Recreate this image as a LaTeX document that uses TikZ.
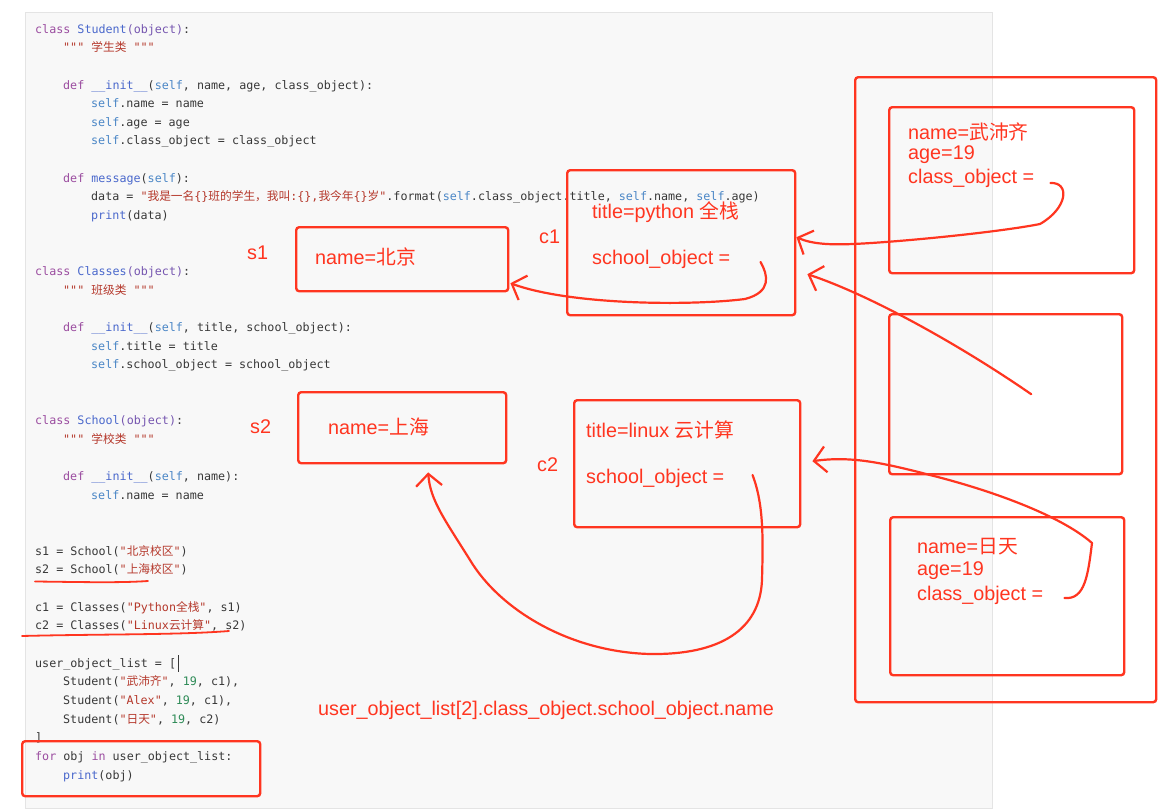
\documentclass[tikz,border=0pt]{standalone}
\usepackage{fontspec}
\setmainfont{Liberation Sans}
\setmonofont{DejaVu Sans Mono}
\newfontfamily\cjk{Noto Sans CJK SC}
\usepackage{xcolor}
\usetikzlibrary{arrows.meta,calc}
\definecolor{markred}{HTML}{FF3520}
\definecolor{codetext}{HTML}{383838}
\definecolor{codekw}{HTML}{9B4DA0}
\definecolor{codename}{HTML}{4A68CC}
\definecolor{codeobj}{HTML}{7656B0}
\definecolor{codeself}{HTML}{4A86C6}
\definecolor{codestr}{HTML}{B5392C}
\definecolor{codenum}{HTML}{2E8B57}
\definecolor{panelgray}{HTML}{F8F8F8}
\definecolor{panelline}{HTML}{E4E4E4}
\newcommand\zh[1]{{\cjk #1}}
\newcommand\kwd[1]{\textcolor{codekw}{#1}}
\newcommand\clsname[1]{\textcolor{codename}{#1}}
\newcommand\objw{\textcolor{codeobj}{(object)}}
\newcommand\selfw{\textcolor{codeself}{self}}
\newcommand\strg[1]{\textcolor{codestr}{#1}}
\newcommand\numb[1]{\textcolor{codenum}{#1}}
\tikzset{
  codeline/.style={text=codetext,font=\ttfamily\fontsize{11.7}{14}\selectfont,
    inner sep=0pt,anchor=base west},
  redtext/.style={text=markred,font=\fontsize{19.8}{24}\selectfont,
    inner sep=0pt,anchor=west},
  objbox/.style={draw=markred,line width=2.4pt,rounded corners=3pt,
    inner sep=0pt,anchor=north west},
  handarrow/.style={draw=markred,line width=2.2pt,line cap=round,line join=round,
    -{Straight Barb[length=12pt,width=26pt]}},
  handline/.style={draw=markred,line width=1.8pt,line cap=round}
}
\begin{document}
\begin{tikzpicture}[x=1pt,y=-1pt]
  \useasboundingbox[fill=white] (0,0) rectangle (1171,811);
  \draw[fill=panelgray,draw=panelline] (25,12) rectangle (992,808);

  \node[codeline] (l1) at (35,33) {\kwd{class} \clsname{Student}\objw:};
  \node[codeline] (l2) at (63,51.6) {\strg{""" \zh{学生类} """}};
  \node[codeline] (l4) at (63,89) {\kwd{def} \clsname{\_\_init\_\_}(\selfw, name, age, class\_object):};
  \node[codeline] (l5) at (91,107.6) {\selfw.name = name};
  \node[codeline] (l6) at (91,126.3) {\selfw.age = age};
  \node[codeline] (l7) at (91,144.9) {\selfw.class\_object = class\_object};
  \node[codeline] (l9) at (63,182.2) {\kwd{def} \clsname{message}(\selfw):};
  \node[codeline] (l10) at (91,200.9)
    {data = \strg{"\zh{我是一名}\{\}\zh{班的学生，我叫}:\{\},\zh{我今年}\{\}\zh{岁}"}.format(\selfw.class\_object.title, \selfw.name, \selfw.age)};
  \node[codeline] (l11) at (91,219.5) {\clsname{print}(data)};
  \node[codeline] (l14) at (35,275.5) {\kwd{class} \clsname{Classes}\objw:};
  \node[codeline] (l15) at (63,294.1) {\strg{""" \zh{班级类} """}};
  \node[codeline] (l17) at (63,331.4) {\kwd{def} \clsname{\_\_init\_\_}(\selfw, title, school\_object):};
  \node[codeline] (l18) at (91,350) {\selfw.title = title};
  \node[codeline] (l19) at (91,368.7) {\selfw.school\_object = school\_object};
  \node[codeline] (l22) at (35,424.6) {\kwd{class} \clsname{School}\objw:};
  \node[codeline] (l23) at (63,443.3) {\strg{""" \zh{学校类} """}};
  \node[codeline] (l25) at (63,480.6) {\kwd{def} \clsname{\_\_init\_\_}(\selfw, name):};
  \node[codeline] (l26) at (91,499.2) {\selfw.name = name};
  \node[codeline] (l29) at (35,555.2) {s1 = School(\strg{"\zh{北京校区}"})};
  \node[codeline] (l30) at (35,573.9) {s2 = School(\strg{"\zh{上海校区}"})};
  \node[codeline] (l32) at (35,611.2) {c1 = Classes(\strg{"Python\zh{全栈}"}, s1)};
  \node[codeline] (l33) at (35,629.8) {c2 = Classes(\strg{"Linux\zh{云计算}"}, s2)};
  \node[codeline] (l35) at (35,667.1) {user\_object\_list = [};
  \node[codeline] (l36) at (63,685.8) {Student(\strg{"\zh{武沛齐}"}, \numb{19}, c1),};
  \node[codeline] (l37) at (63,704.4) {Student(\strg{"Alex"}, \numb{19}, c1),};
  \node[codeline] (l38) at (63,723) {Student(\strg{"\zh{日天}"}, \numb{19}, c2)};
  \node[codeline] (l39) at (35,741.7) {]};
  \node[codeline] (l40) at (35,760.3) {\kwd{for} obj \kwd{in} user\_object\_list:};
  \node[codeline] (l41) at (63,779) {\clsname{print}(obj)};
  \draw[codetext,line width=0.8pt] (178,655) -- (178,672);

  \node[objbox,minimum width=212pt,minimum height=64pt] (s1) at (295,226) {};
  \node[objbox,minimum width=228pt,minimum height=145pt] (c1) at (566,169) {};
  \node[objbox,minimum width=208pt,minimum height=71pt] (s2) at (297,391) {};
  \node[objbox,minimum width=226pt,minimum height=127pt] (c2) at (573,399) {};
  \node[objbox,minimum width=301pt,minimum height=625pt] (userlist) at (854,76) {};
  \node[objbox,minimum width=245pt,minimum height=166pt] (stu1) at (888,106) {};
  \node[objbox,minimum width=233pt,minimum height=160pt] (stu2) at (888,313) {};
  \node[objbox,minimum width=234pt,minimum height=158pt] (stu3) at (889,516) {};
  \node[objbox,minimum width=238pt,minimum height=55pt] (forbox) at (21,740) {};

  \node[redtext] (s1label) at (247,253) {s1};
  \node[redtext] (c1label) at (539,237) {c1};
  \node[redtext] (s2label) at (250,427) {s2};
  \node[redtext] (c2label) at (537,465) {c2};
  \node[redtext] (s1name) at (315,257) {name=\zh{北京}};
  \node[redtext] (c1title) at (592,212) {title=python \zh{全栈}};
  \node[redtext] (c1school) at (592,259) {school\_object =};
  \node[redtext] (s2name) at (328,427) {name=\zh{上海}};
  \node[redtext] (c2title) at (586,430) {title=linux \zh{云计算}};
  \node[redtext] (c2school) at (586,478) {school\_object =};
  \node[redtext] (stu1name) at (908,132) {name=\zh{武沛齐}};
  \node[redtext] (stu1age) at (908,155) {age=19};
  \node[redtext] (stu1cls) at (908,178) {class\_object =};
  \node[redtext] (stu3name) at (917,547) {name=\zh{日天}};
  \node[redtext] (stu3age) at (917,571) {age=19};
  \node[redtext] (stu3cls) at (917,595) {class\_object =};
  \node[redtext] (chain) at (318,710) {user\_object\_list[2].class\_object.school\_object.name};

  \draw[handline] (35,581.5) .. controls (80,582) and (120,583) .. (148,581);
  \draw[handline] (22,636) .. controls (100,634) and (180,635) .. (229,631);

  \draw[handarrow] ($(stu1cls.east)+(16,5)$)
    .. controls (1070,182) and (1068,208) .. (1040,224)
    .. controls (1000,232) and (900,242) .. (853,244)
    .. controls (830,245) and (812,244) .. ($(c1.east)+(0,-5.5)$);
  \draw[handarrow] ($(stu2.center)+(25.5,0)$)
    .. controls (960,345) and (870,295) .. ($(c1.east)+(11,31.5)$);
  \draw[handarrow] ($(c1school.east)+(30,3)$)
    .. controls (768,275) and (772,292) .. (745,299)
    .. controls (690,306) and (570,305) .. ($(s1.east)+(1,24)$);
  \draw[handarrow] ($(stu3cls.east)+(21,3)$)
    .. controls (1085,600) and (1088,575) .. (1092,543)
    .. controls (1060,515) and (990,490) .. (930,475)
    .. controls (880,462) and (850,456) .. ($(c2.east)+(11,-2.5)$);
  \draw[handarrow] ($(c2school.east)+(28,-3)$)
    .. controls (764,505) and (763,540) .. (762,580)
    .. controls (760,630) and (720,655) .. (650,654)
    .. controls (570,652) and (500,610) .. (470,560)
    .. controls (445,520) and (430,500) .. ($(s2.south)+(26,8)$);
\end{tikzpicture}
\end{document}
